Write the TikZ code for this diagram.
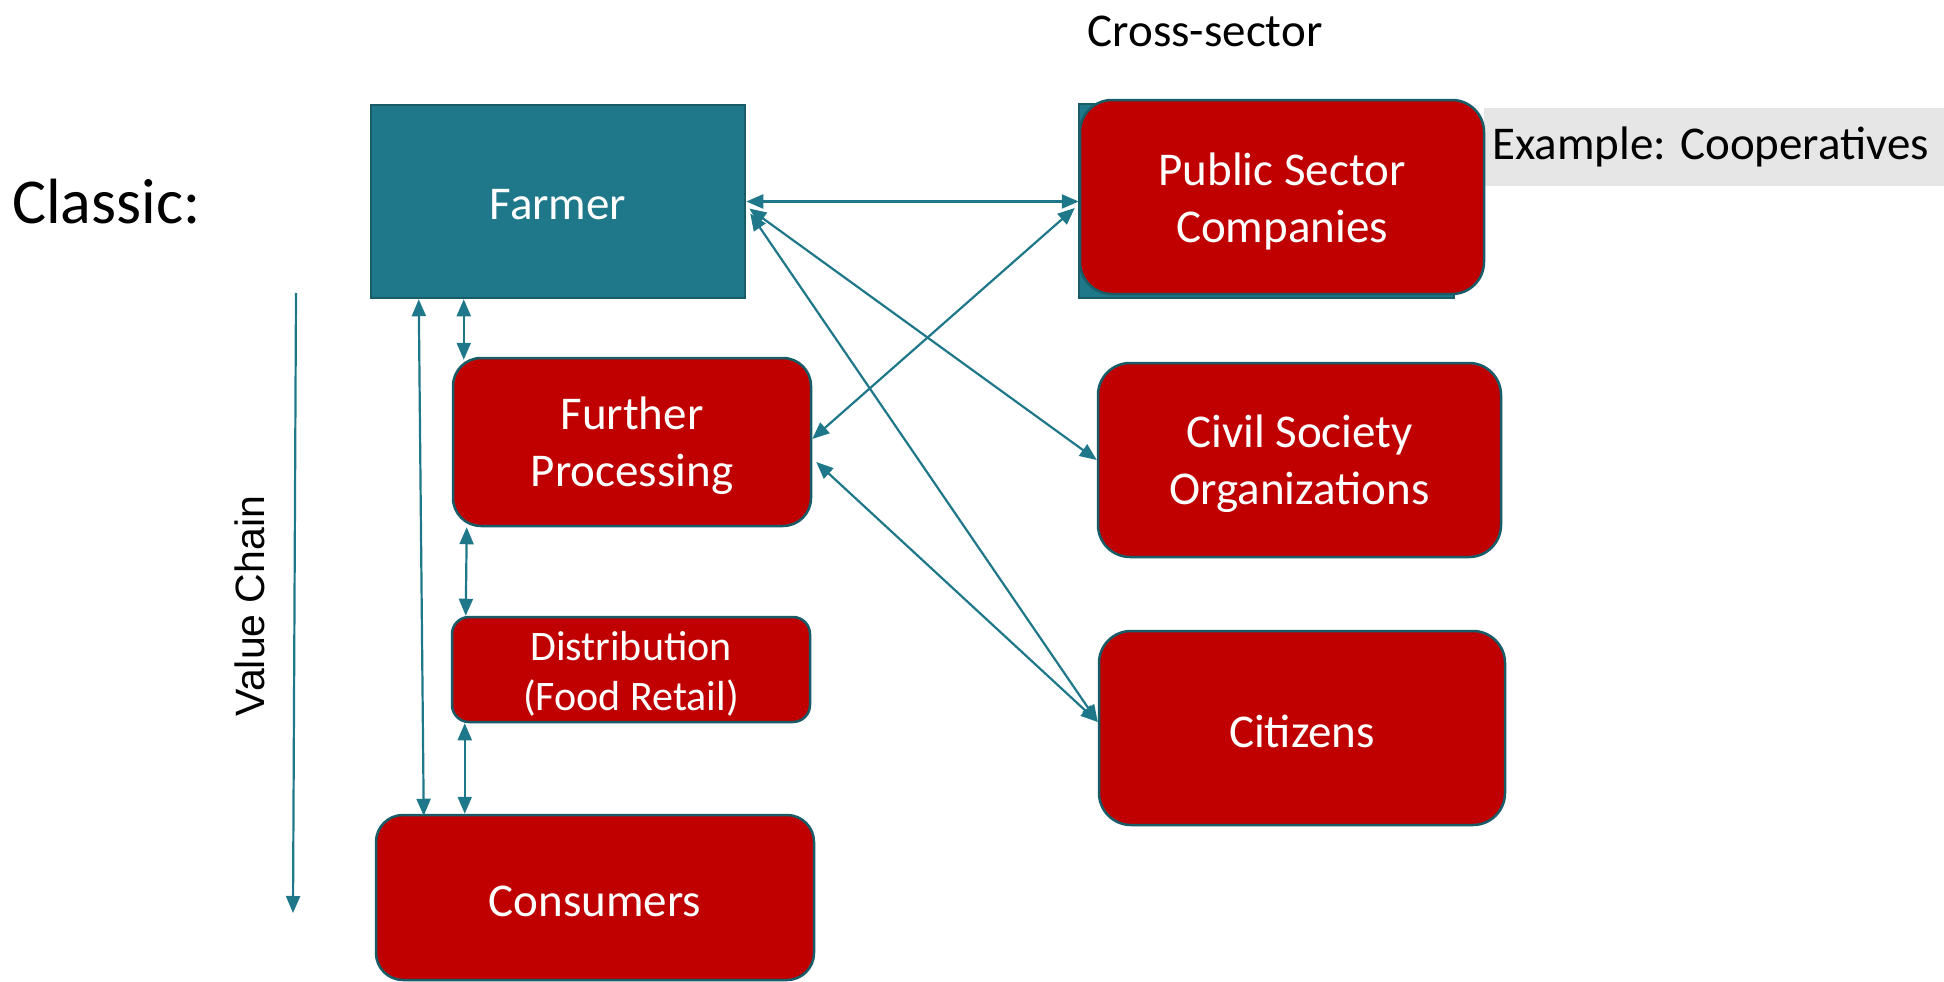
\documentclass[tikz,border=0pt]{standalone}
\usepackage{fontspec}
\setmainfont{Carlito}
\newfontfamily\vcfont{Liberation Sans}
\usetikzlibrary{arrows.meta,calc}
\definecolor{teal1}{RGB}{31,120,137}
\definecolor{teal2}{RGB}{24,92,104}
\definecolor{red1}{RGB}{192,0,0}
\definecolor{grey1}{RGB}{230,230,230}
\begin{document}
\begin{tikzpicture}[x=1pt,y=-1pt,
  bigfont/.style={font=\fontsize{47}{57}\selectfont},
  redbox/.style={draw=teal2, line width=2.5pt, fill=red1, inner sep=0pt},
  tealbox/.style={draw=teal2, line width=2.5pt, fill=teal1, inner sep=0pt},
  boxtext/.style={text=white, align=center, inner sep=0pt, bigfont},
  tip/.tip={Triangle[length=17pt,width=14pt]},
  conn/.style={draw=teal1, line width=2.2pt, tip-tip},
]
\useasboundingbox (0,0) rectangle (1944,982);

% labels
\node[font=\fontsize{64}{77}\selectfont, inner sep=0pt, anchor=west] (classic) at (12,202) {Classic:};
\node[font=\fontsize{47}{56}\selectfont, inner sep=0pt] (cross) at (1205,31) {Cross-sector};
\node[font=\vcfont\fontsize{41}{49}\selectfont, rotate=90, inner sep=0pt] (vc) at (250,606) {Value Chain};

% example box
\node[fill=grey1, minimum width=460pt, minimum height=78pt, inner sep=0pt, anchor=west] (exbox) at (1484,147) {};
\node[bigfont, inner sep=0pt, anchor=west] (extext) at ($(exbox.west)+(8,0)$) {Example: Cooperatives};

% boxes
\node[tealbox, minimum width=374pt, minimum height=193pt] (farmer) at (558,201.5) {};
\node[tealbox, minimum width=375pt, minimum height=194pt] (pubback) at (1266.5,201) {};
\node[redbox, rounded corners=32pt, minimum width=404pt, minimum height=194pt] (public) at (1282,197) {};
\node[redbox, rounded corners=32pt, minimum width=403pt, minimum height=194pt] (civil) at (1299.5,460) {};
\node[redbox, rounded corners=32pt, minimum width=406pt, minimum height=194pt] (citizens) at (1302,728) {};
\node[redbox, rounded corners=28pt, minimum width=358pt, minimum height=168pt] (further) at (632,442) {};
\node[redbox, rounded corners=17pt, minimum width=358pt, minimum height=105pt] (distribution) at (631,669.5) {};
\node[redbox, rounded corners=27pt, minimum width=438pt, minimum height=165pt] (consumers) at (595,897.5) {};

% box texts
\node[boxtext] (farmertext) at ($(farmer.center)+(0,3)$) {Farmer};
\node[boxtext] (publictext) at ($(public.center)+(0,4)$) {Public Sector\\Companies};
\node[boxtext] (civiltext) at ($(civil.center)+(0,4)$) {Civil Society\\Organizations};
\node[boxtext] (citizenstext) at ($(citizens.center)+(0,3)$) {Citizens};
\node[boxtext] (furthertext) at ($(further.center)+(0,4)$) {Further\\Processing};
\node[boxtext, font=\fontsize{42}{50}\selectfont] (distributiontext) at ($(distribution.center)+(0,4)$) {Distribution\\(Food Retail)};
\node[boxtext] (consumerstext) at ($(consumers.center)+(0,4)$) {Consumers};

% connectors
\draw[conn] (farmer.east) -- (farmer.east -| public.west);
\draw[conn] ($(public.west)+(-4,11)$) -- ($(further.east)+(0,-3)$);
\draw[conn] ($(farmer.east)+(3,7)$) -- (civil.west);
\draw[conn] ($(farmer.east)+(4,12)$) -- ($(citizens.west)+(0,-6)$);
\draw[conn] ($(further.east)+(4,20)$) -- ($(citizens.west)+(0,-6)$);
\draw[conn] ($(farmer.south west)+(94,0)$) -- ($(further.north west)+(12,3)$);
\draw[conn] ($(farmer.south west)+(49,0)$) -- ($(consumers.north west)+(49,2)$);
\draw[conn] ($(further.south west)+(15,0)$) -- ($(distribution.north west)+(15,0)$);
\draw[conn] ($(distribution.south west)+(14,0)$) -- ($(consumers.north west)+(90,0)$);
\coordinate (vctop) at (296,293);
\coordinate (vcbot) at (293,913);
\draw[draw=teal1, line width=2.2pt, -tip] (vctop) -- (vcbot);
\end{tikzpicture}
\end{document}
